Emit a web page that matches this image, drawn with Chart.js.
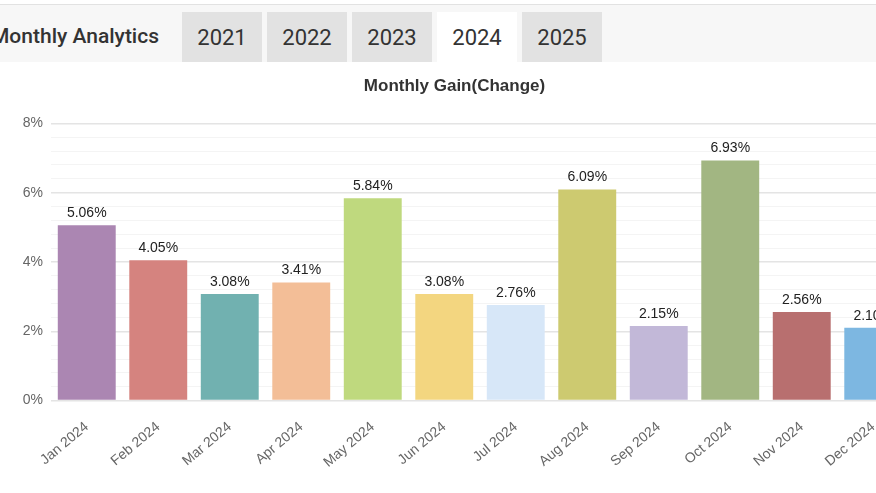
<!DOCTYPE html>
<html lang="en">
<head>
<meta charset="UTF-8">
<title>Monthly Analytics</title>
<style>
  html, body { margin: 0; padding: 0; background: #fff; overflow: hidden; width: 876px; height: 493px; }
  .topline { position: absolute; left: 0; top: 0; width: 876px; height: 4px; background: #fff; border-bottom: 1px solid #e2e2e2; }
  .header { position: absolute; left: 0; top: 5px; width: 876px; height: 57px; background: #f7f7f7; }
  .header h2 { position: absolute; left: -9px; top: 19px; margin: 0; font: 500 21px Roboto, sans-serif; color: #333; }
  .tab { position: absolute; top: 7px; width: 80px; height: 50px; background: #e2e2e2; font: 400 22px Roboto, sans-serif; color: #333; text-align: center; line-height: 52px; }
  .tab.active { background: #fff; }
  .chartbox { position: absolute; left: 0; top: 62px; width: 910px; height: 431px; }
</style>
</head>
<body>
<div class="topline"></div>
<div class="header">
  <h2>Monthly Analytics</h2>
  <div class="tab" style="left:182px">2021</div>
  <div class="tab" style="left:267px">2022</div>
  <div class="tab" style="left:352px">2023</div>
  <div class="tab active" style="left:437px">2024</div>
  <div class="tab" style="left:522px">2025</div>
</div>
<div class="chartbox">
  <canvas id="myChart"></canvas>
</div>

<script src="https://cdn.jsdelivr.net/npm/chart.js@4"></script>
<script>
const months = ['Jan 2024', 'Feb 2024', 'Mar 2024', 'Apr 2024', 'May 2024', 'Jun 2024',
                'Jul 2024', 'Aug 2024', 'Sep 2024', 'Oct 2024', 'Nov 2024', 'Dec 2024'];
const gains = [5.06, 4.05, 3.08, 3.41, 5.84, 3.08, 2.76, 6.09, 2.15, 6.93, 2.56, 2.10];
const barColors = ['#ab86b2', '#d5837f', '#71b1b0', '#f3be97', '#bfd97e', '#f3d680',
                   '#d7e7f8', '#cdca70', '#c2b8d8', '#a2b682', '#b86f6f', '#7db7e1'];

const FONT = '"Liberation Sans", Arial, sans-serif';
const isMajor = v => Math.abs(v - Math.round(v / 2) * 2) < 0.001;

// draw the value above each bar
const valueLabels = {
  id: 'valueLabels',
  afterDatasetsDraw(chart) {
    const ctx = chart.ctx;
    const meta = chart.getDatasetMeta(0);
    ctx.save();
    ctx.font = '14px ' + FONT;
    ctx.fillStyle = '#222';
    ctx.textAlign = 'center';
    ctx.textBaseline = 'bottom';
    meta.data.forEach((bar, i) => {
      ctx.fillText(gains[i].toFixed(2) + '%', bar.x, bar.y - 5);
    });
    ctx.restore();
  }
};

const config = {
  type: 'bar',
  data: {
    labels: months,
    datasets: [{
      label: 'Monthly Gain',
      data: gains,
      backgroundColor: barColors,
      borderWidth: 0,
      barPercentage: 0.9,
      categoryPercentage: 0.9
    }]
  },
  options: {
    responsive: true,
    maintainAspectRatio: false,
    animation: false,
    layout: { padding: { left: 0, right: 1, top: 0, bottom: 12 } },
    plugins: {
      legend: { display: false },
      tooltip: { enabled: false },
      title: {
        display: true,
        text: 'Monthly Gain(Change)',
        color: '#333',
        font: { family: FONT, size: 17, weight: 'bold' },
        padding: { top: 14, bottom: 27 }
      }
    },
    scales: {
      x: {
        grid: { display: false },
        border: { display: false },
        ticks: {
          color: '#666',
          font: { family: FONT, size: 14 },
          minRotation: 40,
          maxRotation: 40,
          padding: 10
        }
      },
      y: {
        min: 0,
        max: 8,
        border: { display: false },
        afterFit: scale => { scale.width = 51; },
        grid: {
          drawTicks: false,
          color: ctx => (isMajor(ctx.tick.value) ? '#e4e4e4' : '#f4f4f4'),
          lineWidth: ctx => (isMajor(ctx.tick.value) ? 1.5 : 1)
        },
        ticks: {
          stepSize: 0.4,
          autoSkip: false,
          color: '#666',
          padding: 8,
          font: { family: FONT, size: 14 },
          callback: v => (isMajor(v) ? Math.round(v) + '%' : '')
        }
      }
    }
  },
  plugins: [valueLabels]
};

const myChart = new Chart(document.getElementById('myChart'), config);
</script>
</body>
</html>
